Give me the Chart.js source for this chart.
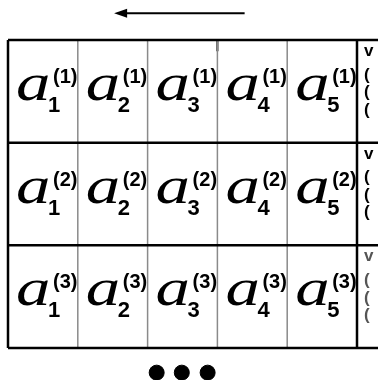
<!DOCTYPE html>
<html>
<head>
<meta charset="utf-8">
<script src="https://cdn.jsdelivr.net/npm/chart.js@4"></script>
<style>
html,body{margin:0;padding:0;background:#fff;}
#wrap{width:378px;height:380px;}
</style>
</head>
<body>
<div id="wrap"><canvas id="c" width="378" height="380"></canvas></div>
<script>
// ---- data ----
const rowIndices = [1, 2, 3];            // superscript (k)
const colIndices = [1, 2, 3, 4, 5];      // subscript i
const baseSymbol = 'a';
const rowBoundaries = [0, 1, 2, 3];
const colBoundaries = [0, 1, 2, 3, 4, 5];
const innerColBoundaries = [1, 2, 3, 4];
const sideMarks = ['v', '(', '(', '('];
const sideMarkY = [0.04, 0.27, 0.44, 0.61];
const ellipsisX = [2.13, 2.49, 2.86];
const ellipsisY = 3.24;
const arrowFrom = 3.39;
const arrowTo = 1.52;
const arrowY = -0.26;

// ---- scale ranges ----
const unitX = 69.8, unitY = 102.667, W = 378, H = 380;
const xMin = -8 / unitX, xMax = xMin + W / unitX;
const yMin = -40 / unitY, yMax = yMin + H / unitY;

const datasets = [];
rowBoundaries.forEach(r => {
  datasets.push({type: 'line', data: [{x: 0, y: r}, {x: xMax, y: r}],
    borderColor: '#000', borderWidth: 2.5, pointRadius: 0, clip: false});
});
colBoundaries.forEach(c => {
  const inner = innerColBoundaries.includes(c);
  datasets.push({type: 'line', data: [{x: c, y: 0}, {x: c, y: 3}],
    borderColor: inner ? '#8a8a8a' : '#000', borderWidth: inner ? 1.5 : 2.5,
    pointRadius: 0, clip: false});
});
datasets.push({type: 'line', data: [{x: 3, y: 0}, {x: 3, y: 0.11}],
  borderColor: '#000', borderWidth: 2, pointRadius: 0, clip: false});
datasets.push({type: 'line', data: [{x: arrowFrom, y: arrowY}, {x: arrowTo + 0.1, y: arrowY}],
  borderColor: '#000', borderWidth: 2, pointRadius: 0, clip: false});
datasets.push({type: 'scatter', data: ellipsisX.map(x => ({x, y: ellipsisY})),
  backgroundColor: '#000', borderColor: '#000', pointRadius: 7.5, clip: false});

const textPlugin = {
  id: 'cellText',
  afterDatasetsDraw(chart) {
    const ctx = chart.ctx, xs = chart.scales.x, ys = chart.scales.y;
    ctx.save();
    // arrow head
    const tx = xs.getPixelForValue(arrowTo), ty = ys.getPixelForValue(arrowY);
    ctx.fillStyle = '#000';
    ctx.beginPath();
    ctx.moveTo(tx, ty);
    ctx.lineTo(tx + 13, ty - 4.5);
    ctx.lineTo(tx + 13, ty + 4.5);
    ctx.closePath();
    ctx.fill();
    ctx.textBaseline = 'alphabetic';
    ctx.textAlign = 'left';
    rowIndices.forEach((k, ri) => {
      const top = ys.getPixelForValue(ri);
      colIndices.forEach((i, ci) => {
        const left = xs.getPixelForValue(ci);
        ctx.save();
        ctx.translate(left + 8, top + 60);
        ctx.scale(1.3, 1);
        ctx.font = 'italic 53px "Liberation Serif", "Times New Roman", serif';
        ctx.fillText(baseSymbol, 0, 0);
        ctx.restore();
        ctx.font = 'bold 20px "Liberation Sans", Arial, sans-serif';
        ctx.fillText('(' + k + ')', left + 45, top + 43);
        ctx.font = 'bold 22px "Liberation Sans", Arial, sans-serif';
        ctx.fillText(String(i), left + 40, top + 72);
      });
      ctx.font = 'bold 17px "Liberation Sans", Arial, sans-serif';
      ctx.fillStyle = ri === 2 ? '#555' : '#000';
      sideMarks.forEach((m, mi) => {
        ctx.fillText(m, xs.getPixelForValue(5) + 7, ys.getPixelForValue(ri + sideMarkY[mi]) + 12);
      });
      ctx.fillStyle = '#000';
    });
    ctx.restore();
  }
};

new Chart(document.getElementById('c'), {
  type: 'scatter',
  data: {datasets},
  options: {
    responsive: false,
    animation: false,
    events: [],
    layout: {padding: 0, autoPadding: false},
    plugins: {legend: {display: false}, tooltip: {enabled: false}},
    scales: {
      x: {type: 'linear', min: xMin, max: xMax, display: false},
      y: {type: 'linear', min: yMin, max: yMax, reverse: true, display: false}
    }
  },
  plugins: [textPlugin]
});
</script>
</body>
</html>
